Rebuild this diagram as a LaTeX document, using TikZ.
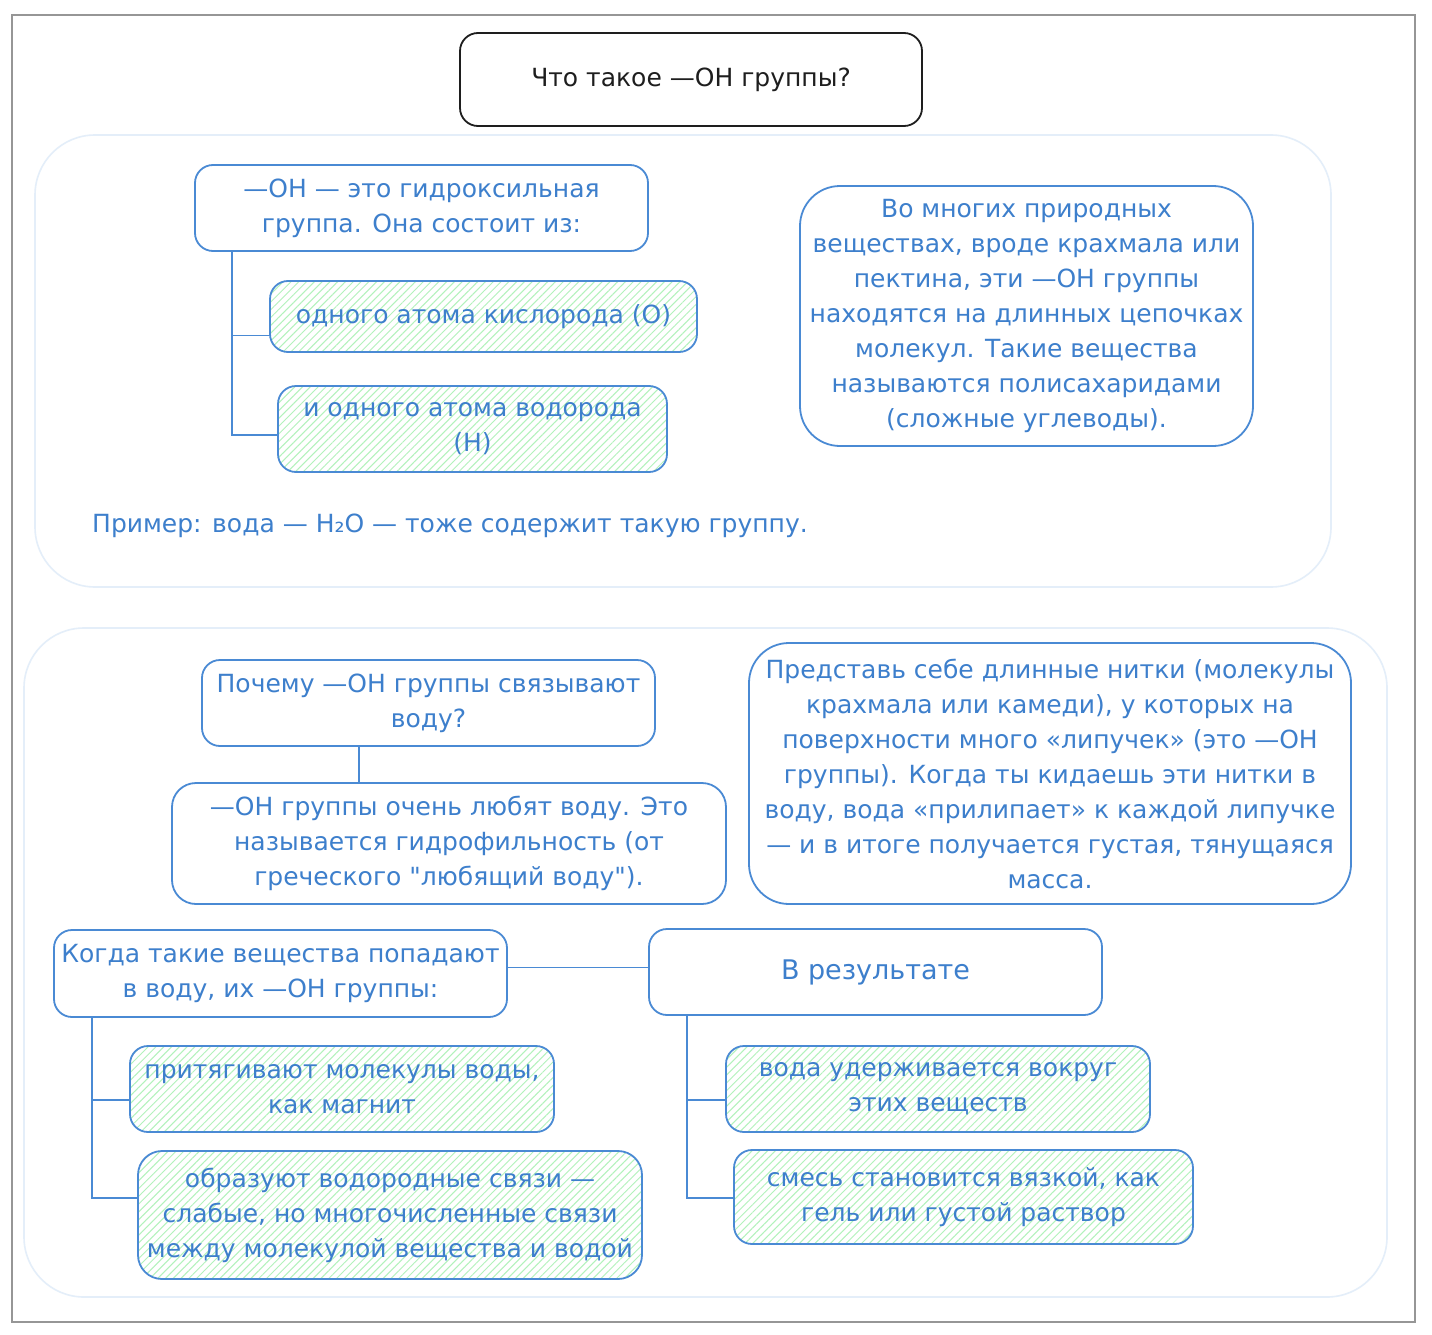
\documentclass[tikz,border=0pt]{standalone}
\usepackage{fontspec}
\setmainfont{DejaVu Sans}[Ligatures=TeXOff]
\usetikzlibrary{calc,patterns.meta}
\definecolor{ocblue}{HTML}{4A8AD4}
\definecolor{octext}{HTML}{3D7FCC}
\definecolor{grpblue}{HTML}{E4EEF9}
\definecolor{hatchgreen}{HTML}{B2F2BB}
\definecolor{framegray}{HTML}{969696}
\definecolor{inkblack}{HTML}{1E1E1E}
\newcommand{\mainfs}{\fontsize{25}{35}\selectfont}
\tikzset{
  bluebox/.style={draw=ocblue, line width=1.8pt, rounded corners=18pt, text=octext, align=center, font=\mainfs, inner sep=0pt},
  greenbox/.style={bluebox, pattern={Lines[angle=45,distance=5.5pt,line width=1pt]}, pattern color=hatchgreen},
  titlebox/.style={draw=inkblack, line width=1.8pt, rounded corners=18pt, text=inkblack, align=center, font=\mainfs, inner sep=0pt},
  grp/.style={draw=grpblue, line width=1.6pt, rounded corners=60pt, fill=white},
  conn/.style={draw=ocblue, line width=1.8pt},
  plaintext/.style={text=octext, font=\mainfs, inner sep=0pt},
}
\begin{document}
\begin{tikzpicture}[x=1pt,y=-1pt]
\useasboundingbox[fill=white] (0,0) rectangle (1432,1335);
\draw[framegray, line width=2pt] (12,15) rectangle (1415,1322);
% groups
\draw[grp] (35,135) rectangle (1331,587);
\draw[grp] (24,628) rectangle (1387,1297);
% title
\node[titlebox, minimum width=462pt, minimum height=93pt] (T) at (691,79.5) {Что такое —OH группы?};
% group 1
\node[bluebox, minimum width=453pt, minimum height=86pt] (A) at (421.5,208) {—OH — это гидроксильная\\группа. Она состоит из:};
\node[greenbox, minimum width=427pt, minimum height=71pt] (B) at (483.5,316.5) {одного атома кислорода (О)};
\node[greenbox, minimum width=389pt, minimum height=86pt] (C) at (472.5,429) {и одного атома водорода\\(Н)};
\node[plaintext, anchor=west] (EX) at (92,526) {Пример: вода — H₂O — тоже содержит такую группу.};
\node[bluebox, minimum width=453pt, minimum height=260pt, rounded corners=40pt] (D) at (1026.5,316) {Во многих природных\\веществах, вроде крахмала или\\пектина, эти —OH группы\\находятся на длинных цепочках\\молекул. Такие вещества\\называются полисахаридами\\(сложные углеводы).};
\coordinate (a0) at ($(A.south west)+(38,0)$);
\draw[conn] (a0) |- ($(B.west)+(0,19)$);
\draw[conn] (a0) |- ($(C.west)+(0,6)$);
% group 2
\node[bluebox, minimum width=453pt, minimum height=86pt] (E) at (428.5,703) {Почему —OH группы связывают\\воду?};
\node[bluebox, minimum width=554pt, minimum height=121pt, rounded corners=24pt] (F) at (449,843.5) {—OH группы очень любят воду. Это\\называется гидрофильность (от\\греческого "любящий воду").};
\draw[conn] ($(E.south west)+(158,0)$) -- ($(F.north west)+(188,0)$);
\node[bluebox, minimum width=602pt, minimum height=261pt, rounded corners=40pt] (G) at (1050,773.5) {Представь себе длинные нитки (молекулы\\крахмала или камеди), у которых на\\поверхности много «липучек» (это —OH\\группы). Когда ты кидаешь эти нитки в\\воду, вода «прилипает» к каждой липучке\\— и в итоге получается густая, тянущаяся\\масса.};
\node[bluebox, minimum width=453pt, minimum height=87pt] (H) at (280.5,973.5) {Когда такие вещества попадают\\в воду, их —OH группы:};
\node[bluebox, minimum width=453pt, minimum height=86pt, font=\fontsize{27}{35}\selectfont] (I) at (875.5,972) {В результате};
\coordinate (h1) at ($(H.east)+(0,-6)$);
\draw[conn] (h1) -- (h1 -| I.west);
\node[greenbox, minimum width=424pt, minimum height=86pt] (J) at (342,1089) {притягивают молекулы воды,\\как магнит};
\node[greenbox, minimum width=504pt, minimum height=128pt, rounded corners=24pt] (K) at (390,1215) {образуют водородные связи —\\слабые, но многочисленные связи\\между молекулой вещества и водой};
\coordinate (h0) at ($(H.south west)+(39,0)$);
\draw[conn] (h0) |- ($(J.west)+(0,11)$);
\draw[conn] (h0) |- ($(K.west)+(0,-17)$);
\node[greenbox, minimum width=424pt, minimum height=86pt] (L) at (938,1089) {вода удерживается вокруг\\этих веществ};
\node[greenbox, minimum width=459pt, minimum height=94pt] (M) at (963.5,1197) {смесь становится вязкой, как\\гель или густой раствор};
\coordinate (i0) at ($(I.south west)+(39,0)$);
\draw[conn] (i0) |- ($(L.west)+(0,11)$);
\draw[conn] (i0) |- ($(M.west)+(0,1)$);
\end{tikzpicture}
\end{document}
